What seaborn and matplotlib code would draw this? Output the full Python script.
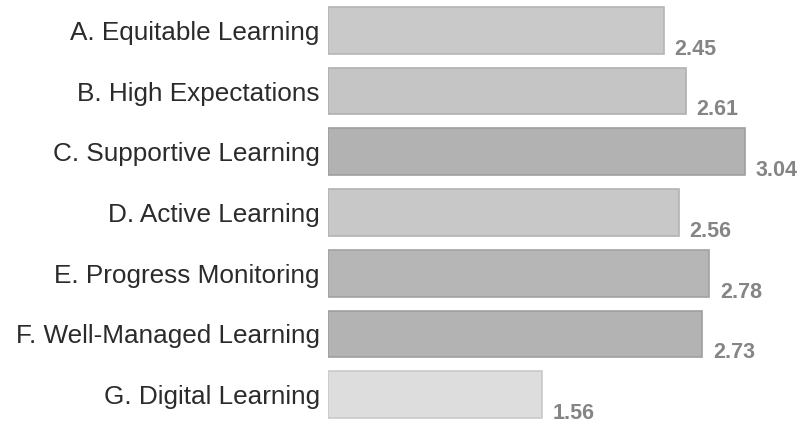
import matplotlib
matplotlib.use("Agg")
import matplotlib.pyplot as plt
import seaborn as sns
import pandas as pd

categories = ["A. Equitable Learning", "B. High Expectations", "C. Supportive Learning",
              "D. Active Learning", "E. Progress Monitoring", "F. Well-Managed Learning",
              "G. Digital Learning"]
values = [2.45, 2.61, 3.04, 2.56, 2.78, 2.73, 1.56]
bar_colors = ["#c9c9c9", "#c5c5c5", "#b2b2b2", "#c8c8c8", "#b6b6b6", "#b3b3b3", "#dddddd"]
edge_colors = ["#b5b5b5", "#b0b0b0", "#9e9e9e", "#b3b3b3", "#a2a2a2", "#9f9f9f", "#c9c9c9"]
value_labels = ["2.45", "2.61", "3.04", "2.56", "2.78", "2.73", "1.56"]

sns.set_style("white")
plt.rcParams['font.family'] = ['Liberation Sans', 'DejaVu Sans']

df = pd.DataFrame({"cat": categories, "val": values})

fig = plt.figure(figsize=(8.04, 4.25), dpi=100)
ax = fig.add_axes([0.408, 0.0, 0.592, 1.0])
sns.barplot(data=df, x="val", y="cat", hue="cat", palette=bar_colors, order=categories,
            hue_order=categories, orient="h", width=0.77, legend=False, ax=ax,
            linewidth=1.2)
for patch, ec in zip(ax.patches, edge_colors):
    patch.set_edgecolor(ec)

for i, (v, lab) in enumerate(zip(values, value_labels)):
    ax.annotate(lab, xy=(v, i + 0.31), xytext=(7.5, 0), textcoords="offset points",
                ha="left", va="center", fontsize=15.5, fontweight="bold", color="#858585")

ax.set_xlim(0, 3.47)
ax.set_ylim(6.5, -0.5)
ax.set_xlabel("")
ax.set_ylabel("")
ax.set_xticks([])
ax.tick_params(axis="y", length=0, pad=6, labelsize=18.8, labelcolor="#2b2b2b")
for s in ax.spines.values():
    s.set_visible(False)

fig.savefig("out.png", dpi=100)
